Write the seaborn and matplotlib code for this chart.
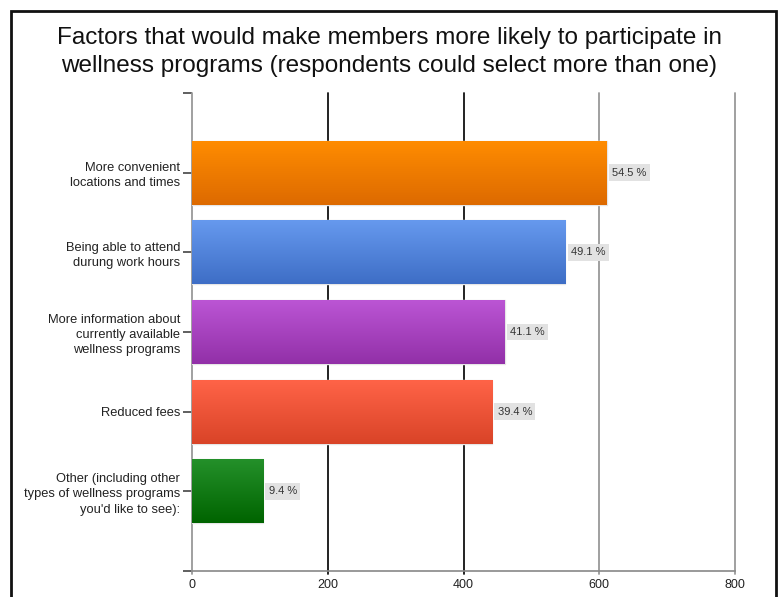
import numpy as np
import pandas as pd
import matplotlib
matplotlib.use("Agg")
import matplotlib.pyplot as plt
import matplotlib.colors as mcolors
from matplotlib.patches import Rectangle
import seaborn as sns

categories = [
    "More convenient\nlocations and times",
    "Being able to attend\ndurung work hours",
    "More information about\ncurrently available\nwellness programs",
    "Reduced fees",
    "Other (including other\ntypes of wellness programs\nyou'd like to see):",
]
counts = [611, 550, 461, 442, 105]
percents = ["54.5 %", "49.1 %", "41.1 %", "39.4 %", "9.4 %"]
top_colors = ["#ff8c00", "#6699ee", "#bb55d4", "#ff6347", "#24902a"]
bottom_colors = ["#dd6a00", "#3e6ec6", "#9230a8", "#d94428", "#006400"]
x_ticks = [0, 200, 400, 600, 800]

sns.set_theme(style="white")
plt.rcParams["font.family"] = ["Liberation Sans", "DejaVu Sans"]

fig = plt.figure(figsize=(7.79, 5.97), dpi=100)
ax = fig.add_axes([192 / 779, 1 - 571 / 597, (735 - 192) / 779, (571 - 93) / 597])

df = pd.DataFrame({"category": categories, "count": counts})
sns.barplot(data=df, x="count", y="category", hue="category", palette=top_colors,
            orient="h", width=0.8, legend=False, ax=ax, zorder=3,
            edgecolor="#e6e6e6", linewidth=1)

ax.set_xlim(0, 800)
ax.set_ylim(5, -1)

# gradient fill
for patch, c1, c2 in zip(ax.patches, top_colors, bottom_colors):
    x0, y0 = patch.get_x(), patch.get_y()
    w, h = patch.get_width(), patch.get_height()
    r1 = np.array(mcolors.to_rgb(c1)); r2 = np.array(mcolors.to_rgb(c2))
    t = np.linspace(0, 1, 64)[:, None]
    grad = (r1 * (1 - t) + r2 * t)[:, None, :]
    im = ax.imshow(grad, extent=[x0, x0 + w, y0 + h, y0], aspect="auto",
                   zorder=3.5, interpolation="bilinear")
    im.set_clip_path(patch)

# value labels
for patch, lab in zip(ax.patches, percents):
    xe = patch.get_x() + patch.get_width()
    yc = patch.get_y() + patch.get_height() / 2
    ax.annotate(lab, (xe, yc), xytext=(4, 0), textcoords="offset points",
                va="center", ha="left", fontsize=8, color="#333333", zorder=5,
                bbox=dict(boxstyle="square,pad=0.3", facecolor="#e2e2e2", edgecolor="none"))

# grid lines
grid_cols = {0: "#999999", 200: "#111111", 400: "#111111", 600: "#999999", 800: "#999999"}
for xv in x_ticks:
    ax.axvline(xv, ymin=-0.006, color=grid_cols[xv], lw=1.3, zorder=1, clip_on=False)

for s in ["top", "right", "left"]:
    ax.spines[s].set_visible(False)
ax.spines["bottom"].set_color("#888888")
ax.spines["bottom"].set_linewidth(1.2)

ax.set_xticks(x_ticks)
ax.set_xticklabels([str(v) for v in x_ticks], fontsize=9, color="#222222")
ax.set_yticks([-1, 0, 1, 2, 3, 4, 5])
ax.set_yticklabels([""] + categories + [""], fontsize=9.3, color="#222222", linespacing=1.35)
ax.tick_params(axis="y", length=6.5, width=1.2, color="#444444", pad=2, left=True)
ax.tick_params(axis="x", length=0, pad=6)
ax.set_xlabel(""); ax.set_ylabel("")

fig.text(0.5, 1 - 52 / 597, "Factors that would make members more likely to participate in\nwellness programs (respondents could select more than one)",
         ha="center", va="center", fontsize=17.5, color="#111111", linespacing=1.3)

# outer frame
fig.patches.append(Rectangle((11 / 779, -0.05), (776 - 11) / 779, 1.05 - 11 / 597,
                             transform=fig.transFigure, fill=False, edgecolor="#111111",
                             linewidth=2, zorder=10))

fig.savefig("out.png", dpi=100)
